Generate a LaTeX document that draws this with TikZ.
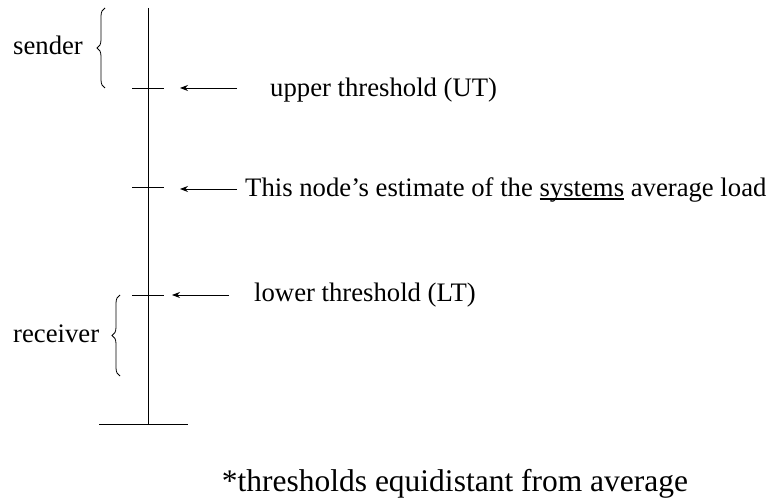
\documentclass[tikz,border=0pt]{standalone}
\usepackage{fontspec}
\setmainfont{Liberation Serif}
\usetikzlibrary{arrows.meta,decorations.pathreplacing}
\newcommand\myul[1]{\setbox0\hbox{#1}\rlap{\rule[-2.6pt]{\wd0}{1.3pt}}\box0\relax}
\begin{document}
\begin{tikzpicture}[x=1pt,y=-1pt,
  axis/.style={line width=0.8pt},
  pointer/.style={line width=0.8pt,-{Stealth[length=8pt,width=6pt]}},
  curly/.style={line width=0.8pt,decorate,decoration={brace,amplitude=8pt}},
  lbl/.style={inner sep=0pt,anchor=base west,font=\fontsize{26.7}{30}\selectfont},
  note/.style={inner sep=0pt,anchor=base,font=\fontsize{31.5}{36}\selectfont}]
\useasboundingbox (0,0) rectangle (771,502);
% main scale
\coordinate (top) at (148,8);
\coordinate (bot) at (148,424);
\coordinate (botL) at (99,424);
\coordinate (botR) at (188,424);
\draw[axis] (top) -- (bot);
\draw[axis] (botL) -- (botR);
% ticks
\coordinate (utL) at (132,88);  \coordinate (utR) at (164,88);
\coordinate (avL) at (132,187); \coordinate (avR) at (164,187);
\coordinate (ltL) at (132,295); \coordinate (ltR) at (164,295);
\draw[axis] (utL) -- (utR);
\draw[axis] (avL) -- (avR);
\draw[axis] (ltL) -- (ltR);
% arrows
\coordinate (utTail) at (237,88);  \coordinate (utTip) at (180,88);
\coordinate (avTail) at (237,189); \coordinate (avTip) at (180,189);
\coordinate (ltTail) at (229,295); \coordinate (ltTip) at (172,295);
\draw[pointer] (utTail) -- (utTip);
\draw[pointer] (avTail) -- (avTip);
\draw[pointer] (ltTail) -- (ltTip);
% labels
\node[lbl] (ut) at (270,97) {upper threshold (UT)};
\node[lbl] (av) at (245,197) {This node’s estimate of the \myul{systems} average load};
\node[lbl] (lt) at (254,302) {lower threshold (LT)};
% braces
\coordinate (sB) at (105,88); \coordinate (sT) at (105,8);
\draw[curly] (sB) -- (sT);
\node[lbl] (sender) at (13,55) {sender};
\coordinate (rB) at (120,376); \coordinate (rT) at (120,295);
\draw[curly] (rB) -- (rT);
\node[lbl] (receiver) at (13,343) {receiver};
% note
\node[note] (note) at (455,491) {*thresholds equidistant from average};
\end{tikzpicture}
\end{document}
